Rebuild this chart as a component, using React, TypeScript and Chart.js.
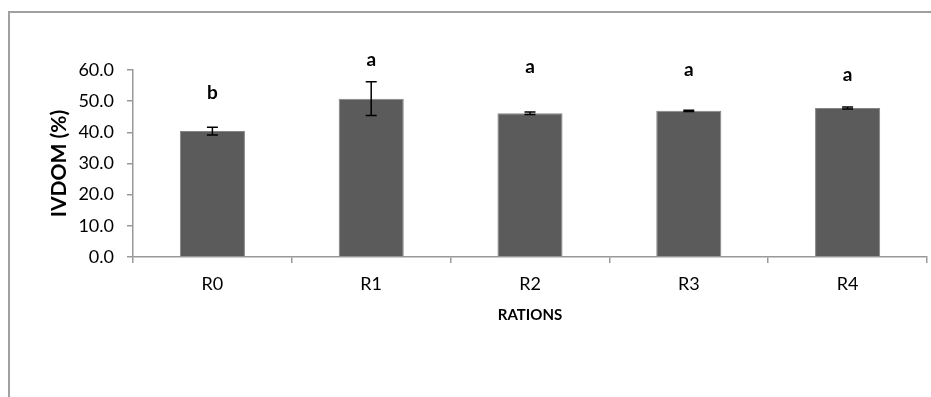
import React, { useEffect, useRef } from "react";
import { Chart, registerables } from "chart.js";

Chart.register(...registerables);

const categories = ["R0", "R1", "R2", "R3", "R4"];
const means = [40.4, 50.8, 46.1, 46.9, 47.8];
const errors = [1.25, 5.4, 0.4, 0.2, 0.35];
const letters = ["b", "a", "a", "a", "a"];
const letterValues = [52.8, 63.2, 60.9, 60.0, 58.3];
const yTicks = [0, 10, 20, 30, 40, 50, 60];
const yTitle = "IVDOM (%)";
const xTitle = "RATIONS";

const FONT = "Lato, 'Open Sans', sans-serif";

const framePlugin = {
  id: "frame",
  beforeDraw(chart: any) {
    const ctx = chart.ctx;
    ctx.save();
    ctx.fillStyle = "#ffffff";
    ctx.fillRect(0, 0, chart.width, chart.height);
    ctx.strokeStyle = "#a0a0a0";
    ctx.lineWidth = 2;
    ctx.beginPath();
    ctx.moveTo(9, chart.height);
    ctx.lineTo(9, 12);
    ctx.lineTo(chart.width, 12);
    ctx.stroke();
    ctx.restore();
  },
};

const errorPlugin = {
  id: "errorBars",
  afterDatasetsDraw(chart: any) {
    const ctx = chart.ctx;
    const x = chart.scales.x;
    const y = chart.scales.y;
    ctx.save();
    ctx.strokeStyle = "#000000";
    ctx.lineWidth = 1.5;
    means.forEach((m, i) => {
      const px = x.getPixelForValue(i);
      const top = y.getPixelForValue(m + errors[i]);
      const bot = y.getPixelForValue(m - errors[i]);
      ctx.beginPath();
      ctx.moveTo(px, top);
      ctx.lineTo(px, bot);
      ctx.moveTo(px - 5.5, top);
      ctx.lineTo(px + 5.5, top);
      ctx.moveTo(px - 5.5, bot);
      ctx.lineTo(px + 5.5, bot);
      ctx.stroke();
    });
    ctx.fillStyle = "#000000";
    ctx.font = `bold 19px ${FONT}`;
    ctx.textAlign = "center";
    ctx.textBaseline = "middle";
    letters.forEach((l, i) => {
      ctx.fillText(l, x.getPixelForValue(i), y.getPixelForValue(letterValues[i]));
    });
    // y-axis title
    const cy = (y.top + y.bottom) / 2;
    ctx.translate(59, cy);
    ctx.rotate(-Math.PI / 2);
    ctx.font = `bold 21px ${FONT}`;
    ctx.fillText(yTitle, 0, 0);
    ctx.restore();
  },
};

export default function App() {
  const ref = useRef<HTMLCanvasElement>(null);
  useEffect(() => {
    if (!ref.current) return;
    const chart = new Chart(ref.current, {
      type: "bar",
      data: {
        labels: categories,
        datasets: [
          {
            data: means,
            backgroundColor: "#5b5b5b",
            borderColor: "#858585",
            borderWidth: 1,
            categoryPercentage: 1,
            barPercentage: 0.41,
          },
        ],
      },
      options: {
        animation: false,
        responsive: false,
        layout: { padding: { left: 48, top: 70, right: 4, bottom: 73 } },
        plugins: { legend: { display: false }, tooltip: { enabled: false } },
        scales: {
          x: {
            afterFit: (s: any) => {
              s.height = 67;
            },
            border: { color: "#999999", width: 1.5 },
            grid: {
              offset: true,
              drawOnChartArea: false,
              drawTicks: true,
              tickLength: 6,
              color: "#999999",
              lineWidth: 1.5,
            },
            ticks: { color: "#000000", font: { family: FONT, size: 18 }, padding: 10 },
            title: {
              display: true,
              text: xTitle,
              color: "#000000",
              font: { family: FONT, size: 15, weight: "bold" },
              padding: 0,
            },
          },
          y: {
            min: 0,
            max: 60,
            afterFit: (s: any) => {
              s.width = 85;
            },
            afterBuildTicks: (s: any) => {
              s.ticks = yTicks.map((v) => ({ value: v }));
            },
            border: { color: "#999999", width: 1.5 },
            grid: {
              drawOnChartArea: false,
              drawTicks: true,
              tickLength: 6,
              color: "#999999",
              lineWidth: 1.5,
            },
            ticks: {
              color: "#000000",
              font: { family: FONT, size: 18 },
              padding: 13,
              callback: (v: any) => Number(v).toFixed(1),
            },
            title: { display: false },
          },
        },
      },
      plugins: [framePlugin, errorPlugin],
    });
    return () => chart.destroy();
  }, []);
  return (
    <canvas
      ref={ref}
      width={931}
      height={397}
      style={{ position: "fixed", left: 0, top: 0, width: 931, height: 397 }}
    />
  );
}
